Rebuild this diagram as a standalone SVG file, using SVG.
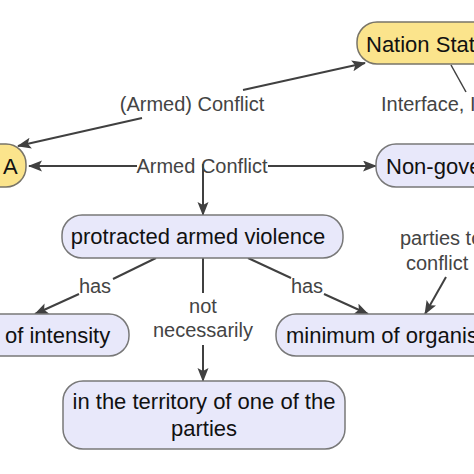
<svg xmlns="http://www.w3.org/2000/svg" width="474" height="474" viewBox="0 0 474 474">
<defs>
<marker id="arr" markerWidth="14" markerHeight="12" refX="13" refY="5.5" orient="auto" markerUnits="userSpaceOnUse">
<path d="M0,0 L14,5.5 L0,11 L3,5.5 z" fill="#404040"/>
</marker>
</defs>
<style>
.y{fill:#fbe48c;stroke:#787468;stroke-width:1.5}
.b{fill:#e8e8fa;stroke:#787878;stroke-width:1.5}
.nt{font-family:"Liberation Sans",Arial,sans-serif;font-size:22px;fill:#111}
.lt{font-family:"Liberation Sans",Arial,sans-serif;font-size:20px;fill:#444}
.c line{stroke:#404040;stroke-width:2}
.m{marker-end:url(#arr)}
</style>
<rect width="474" height="474" fill="#fff"/>
<g id="connectors" class="c">
<line x1="142" y1="118" x2="18" y2="146" class="m"/>
<line x1="243" y1="90" x2="365" y2="63" class="m"/>
<line x1="137" y1="166" x2="29" y2="166" class="m"/>
<line x1="268" y1="166" x2="376" y2="166" class="m"/>
<line x1="203" y1="164" x2="203" y2="215" class="m"/>
<line x1="156" y1="258" x2="113" y2="279"/>
<line x1="79" y1="294" x2="35" y2="314" class="m"/>
<line x1="248" y1="258" x2="291" y2="278"/>
<line x1="324" y1="294" x2="368" y2="314" class="m"/>
<line x1="203" y1="258" x2="203" y2="293"/>
<line x1="203" y1="345" x2="203" y2="381" class="m"/>
<line x1="446" y1="277" x2="425" y2="314" class="m"/>
<line x1="451" y1="65" x2="466" y2="92" style="stroke-width:1.5"/>
</g>
<g id="edge-labels">
<text class="lt" x="192" y="111" text-anchor="middle">(Armed) Conflict</text>
<text class="lt" x="381" y="111">Interface, I</text>
<text class="lt" x="202" y="173" text-anchor="middle">Armed Conflict</text>
<text class="lt" x="95" y="293" text-anchor="middle">has</text>
<text class="lt" x="307" y="293" text-anchor="middle">has</text>
<text class="lt" x="203" y="313" text-anchor="middle">not</text>
<text class="lt" x="203" y="337" text-anchor="middle">necessarily</text>
<text class="lt" x="400" y="245">parties to</text>
<text class="lt" x="406" y="270">conflict</text>
</g>
<g id="node-nation-state">
<rect class="y" x="357" y="22" width="160" height="42" rx="20"/>
<text class="nt" x="366" y="52">Nation State</text>
</g>
<g id="node-a">
<rect class="y" x="-30" y="144" width="56" height="43" rx="20"/>
<text class="nt" x="3" y="174">A</text>
</g>
<g id="node-non-gov">
<rect class="b" x="376" y="144" width="160" height="43" rx="20"/>
<text class="nt" x="386" y="174">Non-governmental</text>
</g>
<g id="node-protracted">
<rect class="b" x="62" y="215" width="281" height="43" rx="20"/>
<text class="nt" x="198" y="244" text-anchor="middle">protracted armed violence</text>
</g>
<g id="node-intensity">
<rect class="b" x="-30" y="314" width="159" height="42" rx="20"/>
<text class="nt" x="5" y="343">of intensity</text>
</g>
<g id="node-organisation">
<rect class="b" x="276" y="314" width="240" height="42" rx="20"/>
<text class="nt" x="286" y="343">minimum of organisation</text>
</g>
<g id="node-territory">
<rect class="b" x="63" y="381" width="282" height="68" rx="20"/>
<text class="nt" x="204" y="409" text-anchor="middle">in the territory of one of the</text>
<text class="nt" x="204" y="436" text-anchor="middle">parties</text>
</g>
</svg>
